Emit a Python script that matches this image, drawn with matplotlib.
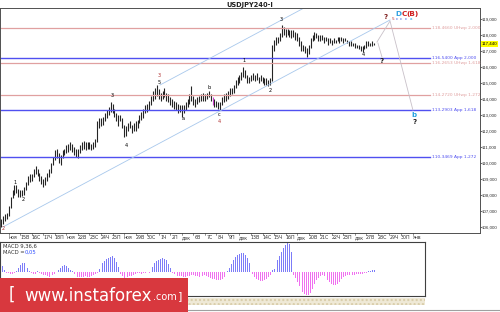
import numpy as np
import matplotlib.pyplot as plt
from matplotlib.patches import Rectangle
from matplotlib.transforms import blended_transform_factory

# ---- data: USDJPY H4 bars (bar 0 = 11 Nov, 6 bars a day) ----
lows = [
    106.0, 106.2, 106.4, 106.5,
    106.7, 107.2, 107.8, 108.0, 108.1, 107.9,
    107.9, 107.95, 108.0, 108.3, 108.6, 108.8,
    108.9, 109.1, 109.3, 109.2, 108.9, 108.7,
    108.5, 108.6, 108.9, 109.1, 109.4, 109.9,
    110.2, 110.3, 110.0, 109.9, 110.3, 110.5,
    110.6, 110.7, 110.8, 110.7, 110.5, 110.4,
    110.3, 110.6, 110.8, 110.9, 110.8, 110.9,
    110.9, 110.8, 110.9, 111.0, 111.3, 112.2,
    112.3, 112.4, 112.6, 112.8, 113.0, 113.2,
    113.1, 112.9, 112.6, 112.3, 112.6, 112.2,
    111.6, 111.7, 112.0, 112.2, 111.9, 112.0,
    112.0, 112.2, 112.5, 112.7, 112.8, 113.1,
    113.2, 113.3, 113.6, 113.9, 114.0, 114.2,
    114.0, 113.9, 114.0, 114.1, 113.9, 113.8,
    113.6, 113.5, 113.4, 113.3, 113.1, 113.2,
    112.9, 113.1, 113.3, 113.5, 113.7, 113.9,
    113.6, 113.5, 113.7, 113.8, 113.9, 113.9,
    113.9, 114.0, 114.1, 113.9, 113.6, 113.5,
    113.5, 113.4, 113.3, 113.6, 113.8, 113.9,
    114.0, 114.2, 114.3, 114.4, 114.7, 114.9,
    115.0, 115.2, 115.4, 115.3, 115.0, 115.0,
    115.1, 115.2, 115.1, 115.2, 115.0, 115.1,
    115.0, 114.9, 114.9, 114.8, 114.9, 115.1,
    117.0, 117.4, 117.5, 117.6, 117.9, 118.0,
    117.9, 118.0, 117.9, 117.8, 117.9, 117.7,
    117.6, 117.3, 117.0, 117.0, 116.9, 116.6,
    116.8, 117.2, 117.6, 117.7, 117.8, 117.6,
    117.6, 117.7, 117.5, 117.6, 117.4, 117.5,
    117.4, 117.5, 117.5, 117.6, 117.5, 117.6,
    117.5, 117.6, 117.5, 117.3, 117.3, 117.3,
    117.2, 117.2, 117.1, 117.0, 116.95, 117.1,
    117.2, 117.3, 117.3, 117.3, 117.4,
]
highs = [
    106.5, 106.7, 106.8, 106.9,
    107.3, 107.9, 108.3, 108.6, 108.6, 108.4,
    108.3, 108.3, 108.5, 108.8, 109.2, 109.3,
    109.3, 109.6, 109.8, 109.6, 109.4, 109.2,
    109.0, 109.1, 109.4, 109.6, 110.0, 110.4,
    110.8, 110.9, 110.6, 110.5, 110.8, 110.9,
    111.1, 111.2, 111.3, 111.2, 111.0, 110.9,
    110.9, 111.1, 111.3, 111.4, 111.3, 111.3,
    111.3, 111.2, 111.3, 111.5, 112.6, 112.8,
    112.8, 112.9, 113.1, 113.3, 113.5, 113.8,
    113.7, 113.4, 113.1, 113.0, 113.0, 112.8,
    112.4, 112.3, 112.5, 112.6, 112.4, 112.5,
    112.6, 112.7, 113.0, 113.2, 113.4, 113.6,
    113.7, 113.9, 114.2, 114.5, 114.7, 114.9,
    114.6, 114.4, 114.5, 114.7, 114.4, 114.3,
    114.1, 114.0, 113.9, 113.8, 113.7, 113.6,
    113.6, 113.6, 113.8, 114.0, 114.3, 114.8,
    114.2, 114.0, 114.1, 114.2, 114.3, 114.4,
    114.3, 114.4, 114.5, 114.3, 114.1, 114.0,
    113.9, 113.8, 113.8, 114.1, 114.3, 114.4,
    114.5, 114.7, 114.7, 114.9, 115.2, 115.4,
    115.5, 115.7, 116.0, 115.8, 115.5, 115.4,
    115.5, 115.6, 115.5, 115.6, 115.4, 115.5,
    115.4, 115.3, 115.3, 115.2, 115.3, 117.4,
    117.7, 117.9, 117.9, 118.1, 118.6, 118.5,
    118.4, 118.4, 118.3, 118.3, 118.3, 118.2,
    118.1, 117.9, 117.6, 117.4, 117.3, 117.2,
    117.4, 117.8, 118.0, 118.2, 118.1, 118.0,
    118.0, 118.0, 117.9, 117.9, 117.8, 117.8,
    117.7, 117.8, 117.7, 117.9, 117.9, 117.9,
    117.8, 117.8, 117.7, 117.6, 117.6, 117.5,
    117.5, 117.4, 117.4, 117.3, 117.3, 117.4,
    117.6, 117.6, 117.5, 117.6, 117.5,
]
highlight_bar = 110  # bar drawn in magenta

# MACD histogram, in units of 0.025
macd_hist = [
    10, 6, 2, -1,
    -1, -2, -2, -1, 1, 4,
    7, 9, 9, 7, 4, 1,
    -1, -2, -2, 1, -1, -2,
    -3, -3, -4, -5, -4, -3,
    -2, 0, 2, 4, 6, 7,
    6, 4, 2, 1, -2, -4,
    -5, -5, -5, -5, -4, -5,
    -5, -4, -3, -2, -1, 3,
    6, 9, 11, 13, 14, 15,
    16, 14, 10, 5, -2, -4,
    -6, -6, -5, -4, -4, -3,
    -2, -1, -1, -2, -1, -1,
    0, -1, 2, 5, 9, 11,
    12, 13, 14, 13, 12, 8,
    4, -1, -2, -3, -4, -4,
    -4, -5, -5, -4, -4, -3,
    -3, -4, -4, -5, -4, -4,
    -3, -4, -5, -6, -7, -7,
    -8, -8, -8, -7, -5, -3,
    1, 4, 8, 12, 15, 17,
    18, 19, 19, 17, 14, 9,
    4, -2, -5, -7, -8, -9,
    -9, -8, -7, -5, -3, 2,
    3, 8, 12, 16, 20, 24,
    27, 29, 28, 20, -3, -6,
    -10, -14, -18, -20, -22, -23,
    -23, -21, -17, -12, -8, -6,
    -4, -3, -4, -6, -8, -10,
    -12, -13, -13, -12, -10, -7,
    -5, -4, -3, -3, -3, -3,
    -3, -2, -2, -2, -2, -1,
    -1, 1, 1, 2, 2,
]
MACD_UNIT = 0.025

day_labels = ["ноя", "15В", "16С", "17Ч", "18П", "ноя", "22В", "23С", "24Ч", "25П",
              "ноя", "29В", "30С", "1Ч", "2П", "дек", "6В", "7С", "8Ч", "9П",
              "дек", "13В", "14С", "15Ч", "16П", "дек", "20В", "21С", "22Ч", "23П",
              "дек", "27В", "28С", "29Ч", "30П", "янв"]
first_day_bar = 4

# levels: price, text, kind
levels = [118.4660, 116.5400, 116.2653, 114.2720, 113.2903, 110.3469]
level_text = ["118,4660 UHwp 2,000", "116,5400 App 2,000", "116,2653 UHwp 1,618",
              "114,2720 UHwp 1,272", "113,2903 App 1,618", "110,3469 App 1,272"]
level_kind = ["w", "a", "w", "w", "a", "a"]

# channel and forecast paths (bar, price)
chan_low_x, chan_low_y = [1.0, 202.3], [106.0, 118.94]
chan_up_x, chan_up_y = [82.7, 160.7], [114.875, 119.89]
fc1_x, fc1_y = [195.5, 202.3, 214.2], [117.56, 118.875, 113.31]
fc2_x, fc2_y = [196.0, 198.1], [117.5, 116.63]

# wave marks (bar, price, text, colour)
waves = [
    (1.0, 105.9, "2", "#b03030"), (7.3, 108.8, "1", "k"), (11.4, 107.7, "2", "k"),
    (57.7, 114.2, "3", "k"), (65.0, 111.1, "4", "k"), (82.2, 115.45, "3", "#b03030"),
    (82.2, 115.05, "5", "k"), (94.6, 112.8, "a", "k"), (108.2, 114.7, "b", "k"),
    (113.4, 113.0, "c", "k"), (113.4, 112.62, "4", "#b03030"), (126.4, 116.4, "1", "k"),
    (139.9, 114.56, "2", "k"), (145.6, 118.94, "3", "k"), (188.2, 116.75, "4", "k"),
]
small_row = [
    (203.6, 118.98, "5", "#c03030"), (205.7, 118.98, "c", "#3050e0"),
    (207.9, 118.98, "c", "#3050e0"), (210.3, 118.98, "c", "#3050e0"),
    (213.0, 118.98, "a", "#20a0e0"),
]
big_marks = [
    (200.2, 119.15, "?", "#802020", 5.0), (206.9, 119.34, "D", "#30a0e0", 5.2),
    (209.9, 119.34, "C", "#d02020", 5.2), (214.2, 119.34, "(B)", "#d02020", 5.2),
    (198.1, 116.37, "?", "#202020", 5.0), (214.8, 113.0, "b", "#20a0e0", 5.0),
    (214.8, 112.55, "?", "#202020", 5.0),
]
last_price = 117.440

W, H = 500, 312
PX_PER_BAR = 1.923


def fy(py):
    return 1 - py / H


fig = plt.figure(figsize=(W / 100, H / 100), dpi=100)
fig.patch.set_facecolor("white")

# main price panel
ax = fig.add_axes([0, fy(233), 480 / W, (233 - 8) / H])
ax.set_xlim(-1 / PX_PER_BAR, 479 / PX_PER_BAR)
ax.set_ylim(105.625, 119.6875)
for s in ax.spines.values():
    s.set_color("#505050")
    s.set_linewidth(0.7)
ax.set_xticks([])
ax.yaxis.tick_right()
ax.set_yticks(np.arange(106, 120))
ax.set_yticklabels([f"{v},000" for v in range(106, 120)],
                   family="Liberation Sans")
ax.tick_params(axis="y", labelsize=3.2, length=1.2, width=0.5, pad=0.3,
               colors="#303030")

n = len(lows)
bars = np.arange(n)
cols = ["#d040d0" if i == highlight_bar else "#252525" for i in bars]
ax.vlines(bars, lows, highs, colors=cols, linewidth=0.8)

for lv, txt, kd in zip(levels, level_text, level_kind):
    c = "#5050f0" if kd == "a" else "#e0a0a0"
    lw = 1.0 if kd == "a" else 0.9
    ax.plot([-1, 223], [lv, lv], color=c, linewidth=lw)
    ax.text(224.2, lv, txt, fontsize=3.2, color=c, va="center", ha="left")

ax.plot(chan_low_x, chan_low_y, color="#a8c8ec", linewidth=0.6)
ax.plot(chan_up_x, chan_up_y, color="#a8c8ec", linewidth=0.6)
ax.plot(fc1_x, fc1_y, color="#c8c0c8", linewidth=0.6)
ax.plot(fc2_x, fc2_y, color="#c8c0c8", linewidth=0.6)

for bx, by, t, c in waves:
    ax.text(bx, by, t, fontsize=3.6, color=c, ha="center", va="center")
for bx, by, t, c in small_row:
    ax.text(bx, by, t, fontsize=3.0, color=c, ha="center", va="center")
for bx, by, t, c, fs in big_marks:
    ax.text(bx, by, t, fontsize=fs, color=c, ha="center", va="center",
            fontweight="bold")

tr = blended_transform_factory(ax.transAxes, ax.transData)
ax.text(1.003, last_price, "117,440", transform=tr, fontsize=3.2, ha="left",
        va="center", color="black", family="Liberation Sans",
        bbox=dict(boxstyle="square,pad=0.2", fc="#ffff00", ec="none"))

fig.text(0.5, fy(5), "USDJPY240-I", fontsize=4.8, fontweight="bold",
         ha="center", va="center", color="#202020")

# date row
xlim_low = (-1 / PX_PER_BAR, 424 / PX_PER_BAR)
axd = fig.add_axes([0, fy(242), 425 / W, 9 / H])
axd.set_xlim(*xlim_low)
axd.set_ylim(0, 1)
axd.axis("off")
for d, lab in enumerate(day_labels):
    b0 = first_day_bar + 6 * d
    axd.plot([b0, b0], [0.75, 1.0], color="#404040", linewidth=0.4)
    axd.text(b0 + 2.3, 0.45, lab, fontsize=3.4, ha="center", va="center",
             color="#303030")

# MACD panel
axm = fig.add_axes([0, fy(296), 425 / W, (296 - 242) / H])
axm.set_xlim(*xlim_low)
axm.set_ylim(-0.6, 0.75)
axm.set_xticks([])
axm.set_yticks([])
for s in axm.spines.values():
    s.set_color("#404040")
    s.set_linewidth(0.8)
hv = np.array(macd_hist) * MACD_UNIT
hc = ["#7c7cf8" if v >= 0 else "#f070f0" for v in hv]
axm.bar(np.arange(len(hv)), hv, width=0.5, color=hc, linewidth=0)
axm.text(0.008, 0.93, "MACD 9,36,6", transform=axm.transAxes, fontsize=3.8,
         color="#303030", va="center")
axm.text(0.008, 0.81, "MACD =", transform=axm.transAxes, fontsize=3.8,
         color="#303030", va="center")
axm.text(0.058, 0.81, "0,05", transform=axm.transAxes, fontsize=3.8,
         color="#3050ff", va="center")

# textured strip under MACD
fig.patches.append(Rectangle((0, fy(305)), 425 / W, 7 / H, transform=fig.transFigure,
                             facecolor="#efe9d6", edgecolor="#d8cca8", hatch="....",
                             linewidth=0))
fig.lines.append(plt.Line2D([188 / W, 1], [fy(310), fy(310)], transform=fig.transFigure,
                            color="#a0a0a0", linewidth=0.8))

# watermark
fig.patches.append(Rectangle((0, 0), 188 / W, 34 / H, transform=fig.transFigure,
                             facecolor="#d8383e", edgecolor="none"))
fig.text(12 / W, fy(295), "[", fontsize=12, color="white", ha="center", va="center")
fig.text(24 / W, fy(296), "www.instaforex", fontsize=12, color="white",
         ha="left", va="center")
fig.text(153 / W, fy(297), ".com", fontsize=7, color="white", ha="left",
         va="center")
fig.text(180 / W, fy(296), "]", fontsize=8, color="white", ha="center",
         va="center")

fig.savefig("out.png", dpi=100)
